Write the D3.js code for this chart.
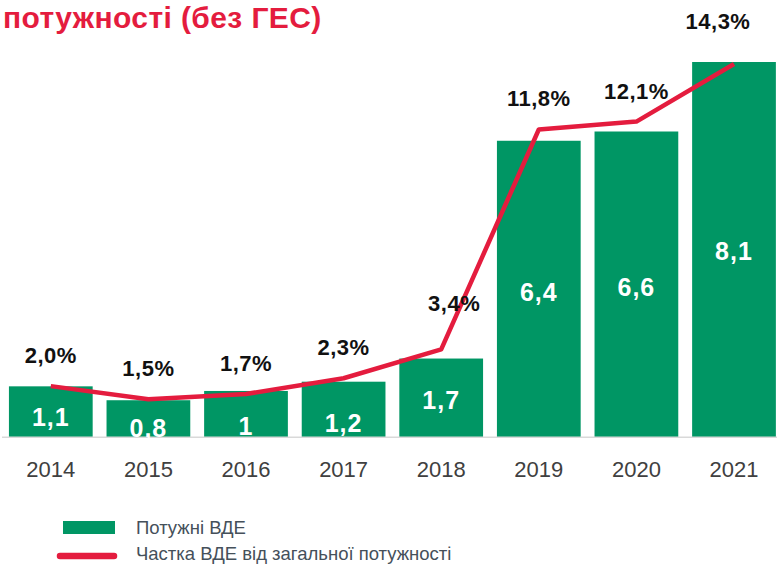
<!DOCTYPE html>
<html lang="uk">
<head>
<meta charset="utf-8">
<title>ВДЕ</title>
<script src="https://cdn.jsdelivr.net/npm/d3@7"></script>
<style>
  body { margin: 0; background: #fff; }
  svg { display: block; font-family: "Liberation Sans", Arial, sans-serif; }
</style>
</head>
<body>
<script>
// data
var years = ["2014", "2015", "2016", "2017", "2018", "2019", "2020", "2021"];
var capacity = [1.1, 0.8, 1, 1.2, 1.7, 6.4, 6.6, 8.1];          // Потужні ВДЕ
var sharePct = [2.0, 1.5, 1.7, 2.3, 3.4, 11.8, 12.1, 14.3];     // Частка ВДЕ, %
var capLabels = ["1,1", "0,8", "1", "1,2", "1,7", "6,4", "6,6", "8,1"];
var pctLabels = ["2,0%", "1,5%", "1,7%", "2,3%", "3,4%", "11,8%", "12,1%", "14,3%"];

// label nudges (hand placed in the original)
var capNudge = [5, 9, 12, 13, 2, 3, 3, 1];
var pctNudgeX = [0, 0, 0, 0, 13, 0, 0, -16];
var pctNudgeY = [0, 0, 0, 0, -15, 0, 0, -12];

var w = 777, h = 564;
var green = "#009664", red = "#e41c3e";
var base = 437.3;

var svg = d3.select("body").append("svg").attr("width", w).attr("height", h);

// title (cut at top in original)
svg.append("text")
  .attr("x", 3).attr("y", 28)
  .attr("font-size", "30px").attr("font-weight", "bold")
  .attr("letter-spacing", "0.4px")
  .attr("fill", red)
  .text("потужності (без ГЕС)");

var x = d3.scaleBand().domain(years).range([2, 782.8])
  .paddingInner(0.142).paddingOuter(0.071);
var yBar = d3.scaleLinear().domain([0, 8.1]).range([base, 62]);
var yPct = d3.scaleLinear().domain([0, 14.3]).range([438.5, 64]);

// bars
svg.selectAll("rect.bar").data(capacity).enter().append("rect")
  .attr("class", "bar")
  .attr("x", function(d, i){ return x(years[i]); })
  .attr("y", function(d){ return yBar(d); })
  .attr("width", x.bandwidth())
  .attr("height", function(d){ return base - yBar(d); })
  .attr("fill", green);

// baseline
svg.append("line")
  .attr("x1", 2).attr("x2", 777).attr("y1", base).attr("y2", base)
  .attr("stroke", "#d9d9d9").attr("stroke-width", 1.5);

// x axis
var axis = svg.append("g").attr("transform", "translate(0," + base + ")")
  .call(d3.axisBottom(x).tickSize(0));
axis.select(".domain").remove();
axis.selectAll("text")
  .attr("y", 40).attr("dy", 0)
  .attr("font-size", "22px")
  .attr("font-family", "Liberation Sans, Arial, sans-serif")
  .attr("fill", "#404040");

// values in bars
svg.selectAll("text.cap").data(capacity).enter().append("text")
  .attr("class", "cap")
  .attr("x", function(d, i){ return x(years[i]) + x.bandwidth() / 2; })
  .attr("y", function(d, i){ return (yBar(d) + base) / 2 + capNudge[i]; })
  .attr("dy", "0.36em")
  .attr("text-anchor", "middle")
  .attr("font-size", "25px").attr("font-weight", "bold")
  .attr("letter-spacing", "1px")
  .attr("fill", "#fff")
  .text(function(d, i){ return capLabels[i]; });

// share line
var line = d3.line()
  .x(function(d, i){ return x(years[i]) + x.bandwidth() / 2; })
  .y(function(d){ return yPct(d); });
svg.append("path").datum(sharePct)
  .attr("d", line)
  .attr("fill", "none")
  .attr("stroke", red).attr("stroke-width", 4.5)
  .attr("stroke-linejoin", "round");

svg.selectAll("text.pct").data(sharePct).enter().append("text")
  .attr("class", "pct")
  .attr("x", function(d, i){ return x(years[i]) + x.bandwidth() / 2 + pctNudgeX[i]; })
  .attr("y", function(d, i){ return yPct(d) - 31 + pctNudgeY[i]; })
  .attr("dy", "0.36em")
  .attr("text-anchor", "middle")
  .attr("font-size", "22px").attr("font-weight", "bold")
  .attr("letter-spacing", "0.5px")
  .attr("fill", "#111")
  .text(function(d, i){ return pctLabels[i]; });

// legend
var lg = svg.append("g");
lg.append("rect").attr("x", 63).attr("y", 521).attr("width", 52).attr("height", 13).attr("fill", green);
lg.append("text").attr("x", 136).attr("y", 534).attr("font-size", "18.5px").attr("fill", "#45505a").text("Потужні ВДЕ");
lg.append("line").attr("x1", 60).attr("x2", 114).attr("y1", 556).attr("y2", 556)
  .attr("stroke", red).attr("stroke-width", 6.5).attr("stroke-linecap", "round");
lg.append("text").attr("x", 136).attr("y", 559.5).attr("font-size", "18.5px").attr("fill", "#45505a")
  .text("Частка ВДЕ від загальної потужності");
</script>
</body>
</html>
